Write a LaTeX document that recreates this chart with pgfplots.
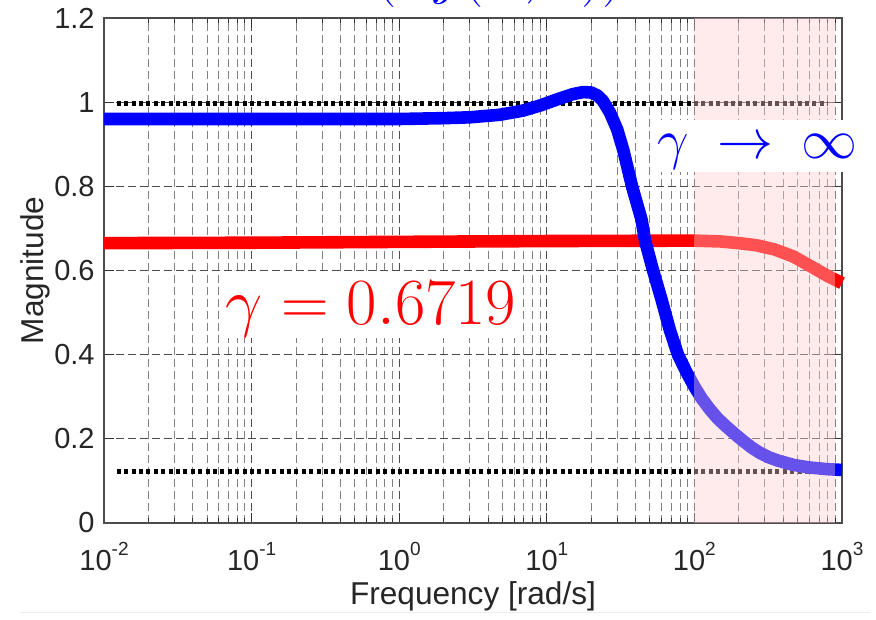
\RequirePackage{fix-cm}
\documentclass[border=0pt]{standalone}
\usepackage[no-math]{fontspec}
\setmainfont{Liberation Sans}
\usepackage{pgfplots}
\pgfplotsset{compat=1.18}
\definecolor{shade}{rgb}{1,0.8,0.8}
\newcommand{\tp}[1]{10\raisebox{0.5em}{\fontsize{9.5bp}{10bp}\selectfont #1}}
\begin{document}
\begin{tikzpicture}
\begin{axis}[
  at={(0,0)}, anchor=south west,
  scale only axis, width=369bp, height=252.5bp,
  xmode=log, xmin=0.01, xmax=1000, ymin=0, ymax=1.2,
  xtick={0.01,0.1,1,10,100,1000},
  xticklabels={\tp{-2},\tp{-1},\tp{0},\tp{1},\tp{2},\tp{3}},
  minor xtick={0.02,0.03,0.04,0.05,0.06,0.07,0.08,0.09,
               0.2,0.3,0.4,0.5,0.6,0.7,0.8,0.9,
               2,3,4,5,6,7,8,9,
               20,30,40,50,60,70,80,90,
               200,300,400,500,600,700,800,900},
  ytick={0,0.2,0.4,0.6,0.8,1,1.2},
  yticklabels={0,0.2,0.4,0.6,0.8,1,1.2},
  grid=both,
  major grid style={dash pattern=on 4bp off 2bp, black!70, line width=0.5bp},
  minor grid style={dash pattern=on 4bp off 2bp, black!50, line width=0.5bp},
  tick align=inside,
  major tick length=5bp, minor tick length=2.5bp,
  tick style={black!80, line width=0.5bp},
  axis line style={black!70, line width=0.8bp},
  tick label style={font=\fontsize{14.5bp}{17bp}\selectfont, text=black!85},
  label style={font=\fontsize{15.8bp}{18bp}\selectfont, text=black!85},
  xticklabel style={anchor=base, yshift=-23.5bp},
  yticklabel style={anchor=east, inner sep=0pt, xshift=-4.5bp},
  xlabel={Frequency [rad/s]},
  ylabel={Magnitude},
  xlabel style={at={(axis description cs:0.5,0)}, anchor=base, yshift=-40.6bp},
  ylabel style={at={(axis description cs:0,0.5)}, anchor=base, yshift=30bp},
  clip=false,
]
% reference dotted levels
\addplot[black, line width=2.4bp, dash pattern=on 2bp off 1.7bp] coordinates {(0.0122,0.996) (800,0.996)};
\addplot[black, line width=2.4bp, dash pattern=on 2bp off 1.7bp] coordinates {(0.0122,0.122) (800,0.122)};
% red curve
\addplot[red, line width=6.3bp, line join=round] coordinates {
(0.01,0.665) (0.1,0.666) (1,0.668) (10,0.670) (100,0.671) (150,0.669) (200,0.665)
(263,0.660) (350,0.650) (470,0.633) (600,0.612) (800,0.587) (1000,0.570)};
% blue curve
\addplot[blue, line width=6.3bp, line join=round] coordinates {
(0.01,0.960) (0.1,0.960) (1,0.960) (2,0.962) (3,0.964) (4.8,0.970) (6.9,0.980)
(9,0.992) (12.3,1.009) (15,1.019) (17.6,1.024) (20,1.023) (22,1.016) (24,1.003)
(26.8,0.975) (30,0.935) (33,0.886) (37.8,0.800) (43.9,0.720) (46.3,0.671)
(52.5,0.600) (60,0.530) (68,0.460) (77.4,0.400) (88.5,0.358) (100,0.324)
(112,0.296) (128,0.269) (145,0.247) (166,0.228) (190,0.210) (214,0.195)
(245,0.179) (277,0.167) (320,0.156) (370,0.148) (470,0.138)
(600,0.132) (790,0.128) (1000,0.126)};
% shaded region
\addplot[draw=none, fill=shade, fill opacity=0.4] coordinates {(100,0) (100,1.2) (900,1.2) (900,0)} -- cycle;
% annotations
\node[anchor=base, fill=white, text=red, inner xsep=2bp, inner ysep=0pt,
      text height=25bp, text depth=7bp,
      font=\fontsize{33bp}{38bp}\selectfont] at (axis cs:0.644,0.4722) {$\gamma = 0.6719$};
\node[anchor=base, fill=white, text=blue, inner xsep=3bp, inner ysep=0pt,
      text height=19bp, text depth=7bp,
      font=\fontsize{28bp}{33bp}\selectfont] at (axis cs:267.6,0.867) {$\gamma\mkern4mu\to\mkern4mu\infty$};
\end{axis}
\node[anchor=base, text=blue, font=\fontsize{30bp}{36bp}\selectfont] at (184.5bp,265bp) {$H(s\,j(\omega,k))$};
\draw[black!7, line width=0.6bp] (-42bp,-44.85bp) -- (383bp,-44.85bp);
\pgfresetboundingbox
\useasboundingbox (-52bp,-48.5bp) rectangle (386bp,261.5bp);
\end{tikzpicture}
\end{document}
